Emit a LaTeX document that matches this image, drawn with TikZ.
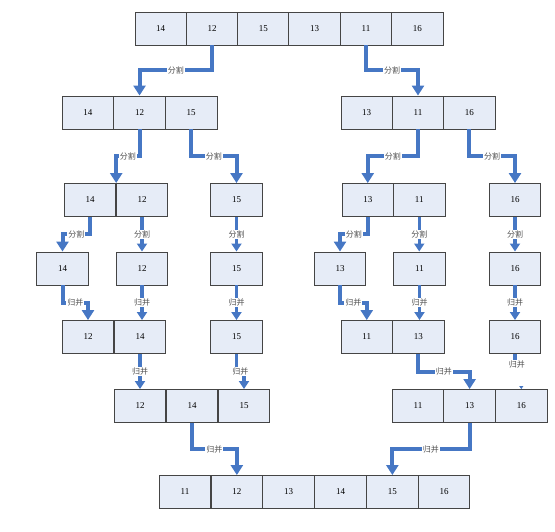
\documentclass[tikz,border=0pt]{standalone}
\usepackage{fontspec}
\setmainfont{Liberation Serif}
\newfontfamily\cjk{Noto Sans CJK SC}
\usetikzlibrary{arrows.meta,calc}
\definecolor{cellfill}{HTML}{E6ECF7}
\definecolor{cellline}{HTML}{454545}
\definecolor{flowblue}{HTML}{4677C4}
\definecolor{labelgray}{HTML}{505050}

\begin{document}
\begin{tikzpicture}[x = 1pt, y = -1pt,
        cell/.style = {draw = cellline, line width = 0.9pt, fill = cellfill, minimum width = 51.5pt, minimum height = 33pt, inner sep = 0pt, font = \fontsize{9}{9}\selectfont},
        elbow/.style = {draw = flowblue, line width = 4pt, -{Triangle[width = 12pt, length = 10pt]}},
        plumb/.style = {draw = flowblue, line width = 3.2pt, -{Triangle[width = 10pt, length = 8pt]}},
        lbl/.style = {fill = white, inner sep = 1pt, text = labelgray, font = \cjk\fontsize{8}{8}\selectfont}]
        \useasboundingbox (0,0) rectangle (555,532);
        \begin{scope}
            % rows of cells
            \foreach \v [count = \i] in {14, 12, 15, 13, 11, 16}
                \node[cell] (a\i) at (109.37 + 51.33*\i, 28.5) {\v};
            \foreach \v [count = \i] in {14, 12, 15}
                \node[cell] (b\i) at (36.2 + 51.67*\i, 112.5) {\v};
            \foreach \v [count = \i] in {13, 11, 16}
                \node[cell] (c\i) at (315.4 + 51.3*\i, 112.5) {\v};
            \foreach \v [count = \i] in {14, 12}
                \node[cell] (d\i) at (38 + 52*\i, 200) {\v};
            \node[cell] (d3) at (236.5, 200) {15};
            \foreach \v [count = \i] in {13, 11}
                \node[cell] (e\i) at (316.25 + 51.5*\i, 200) {\v};
            \node[cell] (e3) at (515, 200) {16};
            \node[cell] (f1) at (62.5, 268.5) {14};
            \node[cell] (f2) at (142, 268.5) {12};
            \node[cell] (f3) at (236.5, 268.5) {15};
            \node[cell] (g1) at (340, 268.5) {13};
            \node[cell] (g2) at (419.5, 268.5) {11};
            \node[cell] (g3) at (515, 268.5) {16};
            \foreach \v [count = \i] in {12, 14}
                \node[cell] (h\i) at (36 + 52*\i, 337) {\v};
            \node[cell] (h3) at (236.5, 337) {15};
            \foreach \v [count = \i] in {11, 13}
                \node[cell] (i\i) at (315.25 + 51.5*\i, 337) {\v};
            \node[cell] (i3) at (515, 337) {16};
            \foreach \v [count = \i] in {12, 14, 15}
                \node[cell] (j\i) at (88 + 52*\i, 406) {\v};
            \foreach \v [count = \i] in {11, 13, 16}
                \node[cell] (k\i) at (366.3 + 51.67*\i, 406) {\v};
            \foreach \v [count = \i] in {11, 12, 13, 14, 15, 16}
                \node[cell] (l\i) at (133.2 + 51.83*\i, 492) {\v};
        \end{scope}
        % split
        \draw[elbow] (a2.south) |- ($(a2.south)!.5!(b2.north)$) node[lbl] {分割} -| (b2.north);
        \draw[elbow] (a5.south) |- ($(a5.south)!.5!(c2.north)$) node[lbl] {分割} -| (c2.north);
        \draw[elbow] (b2.south) |- ($(b2.south)!.5!(d1.north east)$) node[lbl] {分割} -| (d1.north east);
        \draw[elbow] (b3.south) |- ($(b3.south)!.5!(d3.north)$) node[lbl] {分割} -| (d3.north);
        \draw[elbow] (c2.south) |- ($(c2.south)!.5!(e1.north)$) node[lbl] {分割} -| (e1.north);
        \draw[elbow] (c3.south) |- ($(c3.south)!.5!(e3.north)$) node[lbl] {分割} -| (e3.north);
        \draw[elbow] (d1.south) |- ($(d1.south)!.5!(f1.north)$) node[lbl] {分割} -| (f1.north);
        \draw[plumb] (d2.south) -- node[lbl] {分割} (d2.south |- f2.north);
        \draw[plumb] (d3.south) -- node[lbl] {分割} (f3.north);
        \draw[elbow] (e1.south) |- ($(e1.south)!.5!(g1.north)$) node[lbl] {分割} -| (g1.north);
        \draw[plumb] (e2.south) -- node[lbl] {分割} (e2.south |- g2.north);
        \draw[plumb] (e3.south) -- node[lbl] {分割} (g3.north);
        % merge
        \draw[elbow] (f1.south) |- ($(f1.south)!.5!(h1.north)$) node[lbl] {归并} -| (h1.north);
        \draw[plumb] (f2.south) -- node[lbl] {归并} (f2.south |- h2.north);
        \draw[plumb] (f3.south) -- node[lbl] {归并} (h3.north);
        \draw[elbow] (g1.south) |- ($(g1.south)!.5!(i1.north)$) node[lbl] {归并} -| (i1.north);
        \draw[plumb] (g2.south) -- node[lbl] {归并} (g2.south |- i2.north);
        \draw[plumb] (g3.south) -- node[lbl] {归并} (i3.north);
        \draw[plumb] (h2.south) -- node[lbl] {归并} (j1.north);
        \draw[plumb] (h3.south) |- ($(h3.south)!.5!(j3.north)$) node[lbl] {归并} -| (j3.north);
        \draw[elbow] (i2.south) |- ($(i2.south)!.5!(k2.north)$) node[lbl] {归并} -| (k2.north);
        \node[lbl] (m16) at ($(i3.south)!.3!(k3.north)$) {归并};
        \draw[flowblue, line width = 3.2pt] (i3.south) -- (i3.south |- m16.north);
        \draw[flowblue, line width = 1pt, -{Triangle[width = 4pt, length = 3pt]}] ($(k3.north) + (0,-3)$) -- (k3.north);
        \draw[elbow] (j2.south) |- ($(j2.south)!.5!(l2.north)$) node[lbl] {归并} -| (l2.north);
        \draw[elbow] (k2.south) |- ($(k2.south)!.5!(l5.north)$) node[lbl] {归并} -| (l5.north);
\end{tikzpicture}
\end{document}
